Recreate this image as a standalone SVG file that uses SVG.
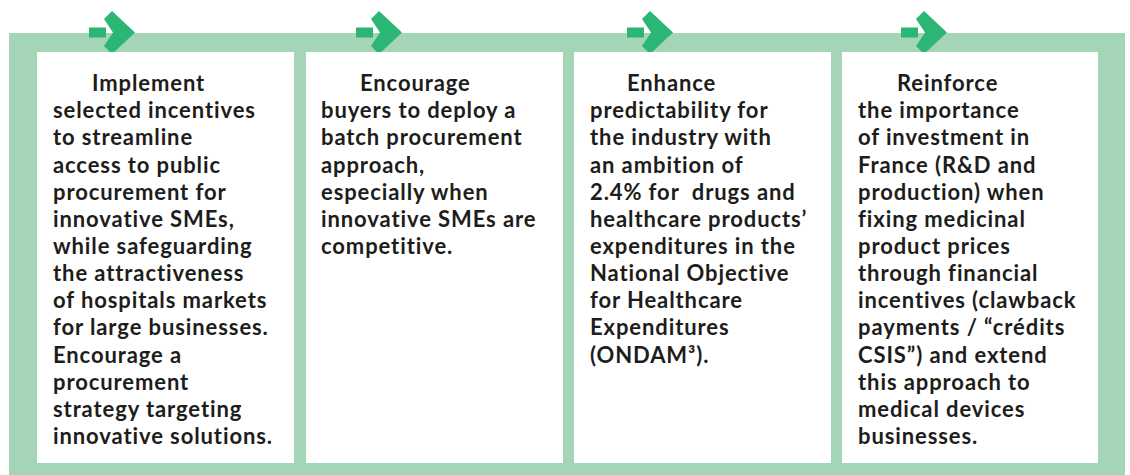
<svg xmlns="http://www.w3.org/2000/svg" width="1130" height="475" viewBox="0 0 1130 475">
<defs>
<style>
.frame{fill:#a3d5b6}
.box{fill:#ffffff}
.arr{fill:#2bb673}
.t{font-family:Lato,"Noto Sans","DejaVu Sans",sans-serif;font-weight:700;font-size:22px;letter-spacing:0.9px;fill:#1d1d1b}
</style>
<g id="arrowIcon">
<rect class="arr" x="-46" y="-5" width="17" height="10"/>
<polygon class="arr" points="-23,-21.5 0,0 -23,21.5 -31,13.5 -22,0 -31,-13.5"/>
</g>
</defs>
<rect width="1130" height="475" fill="#ffffff"/>
<rect class="frame" x="9" y="33" width="1116" height="442"/>
<g id="connectors">
<use href="#arrowIcon" x="135" y="32.5"/>
<use href="#arrowIcon" x="402" y="32.5"/>
<use href="#arrowIcon" x="673" y="32.5"/>
<use href="#arrowIcon" x="947" y="32.5"/>
</g>
<g id="node1">
<rect class="box" x="37" y="52" width="257" height="411"/>
<text class="t">
<tspan x="92" y="91">Implement</tspan>
<tspan x="53" y="118.2">selected incentives</tspan>
<tspan x="53" y="145.3">to streamline</tspan>
<tspan x="53" y="172.5">access to public</tspan>
<tspan x="53" y="199.6">procurement for</tspan>
<tspan x="53" y="226.8">innovative SMEs,</tspan>
<tspan x="53" y="253.9">while safeguarding</tspan>
<tspan x="53" y="281.1">the attractiveness</tspan>
<tspan x="53" y="308.2">of hospitals markets</tspan>
<tspan x="53" y="335.4">for large businesses.</tspan>
<tspan x="53" y="362.5">Encourage a</tspan>
<tspan x="53" y="389.7">procurement</tspan>
<tspan x="53" y="416.8">strategy targeting</tspan>
<tspan x="53" y="444">innovative solutions.</tspan>
</text>
</g>
<g id="node2">
<rect class="box" x="306" y="52" width="257" height="411"/>
<text class="t">
<tspan x="360" y="91">Encourage</tspan>
<tspan x="321" y="118.2">buyers to deploy a</tspan>
<tspan x="321" y="145.3">batch procurement</tspan>
<tspan x="321" y="172.5">approach,</tspan>
<tspan x="321" y="199.6">especially when</tspan>
<tspan x="321" y="226.8">innovative SMEs are</tspan>
<tspan x="321" y="253.9">competitive.</tspan>
</text>
</g>
<g id="node3">
<rect class="box" x="574" y="52" width="257" height="411"/>
<text class="t">
<tspan x="627" y="91">Enhance</tspan>
<tspan x="590" y="118.2">predictability for</tspan>
<tspan x="590" y="145.3">the industry with</tspan>
<tspan x="590" y="172.5">an ambition of</tspan>
<tspan x="590" y="199.6" xml:space="preserve">2.4% for  drugs and</tspan>
<tspan x="590" y="226.8">healthcare products’</tspan>
<tspan x="590" y="253.9">expenditures in the</tspan>
<tspan x="590" y="281.1">National Objective</tspan>
<tspan x="590" y="308.2">for Healthcare</tspan>
<tspan x="590" y="335.4">Expenditures</tspan>
<tspan x="590" y="362.5">(ONDAM³).</tspan>
</text>
</g>
<g id="node4">
<rect class="box" x="842" y="52" width="256" height="411"/>
<text class="t">
<tspan x="897" y="91">Reinforce</tspan>
<tspan x="858" y="118.2">the importance</tspan>
<tspan x="858" y="145.3">of investment in</tspan>
<tspan x="858" y="172.5">France (R&amp;D and</tspan>
<tspan x="858" y="199.6">production) when</tspan>
<tspan x="858" y="226.8">fixing medicinal</tspan>
<tspan x="858" y="253.9">product prices</tspan>
<tspan x="858" y="281.1">through financial</tspan>
<tspan x="858" y="308.2">incentives (clawback</tspan>
<tspan x="858" y="335.4">payments / “crédits</tspan>
<tspan x="858" y="362.5">CSIS”) and extend</tspan>
<tspan x="858" y="389.7">this approach to</tspan>
<tspan x="858" y="416.8">medical devices</tspan>
<tspan x="858" y="444">businesses.</tspan>
</text>
</g>
</svg>
